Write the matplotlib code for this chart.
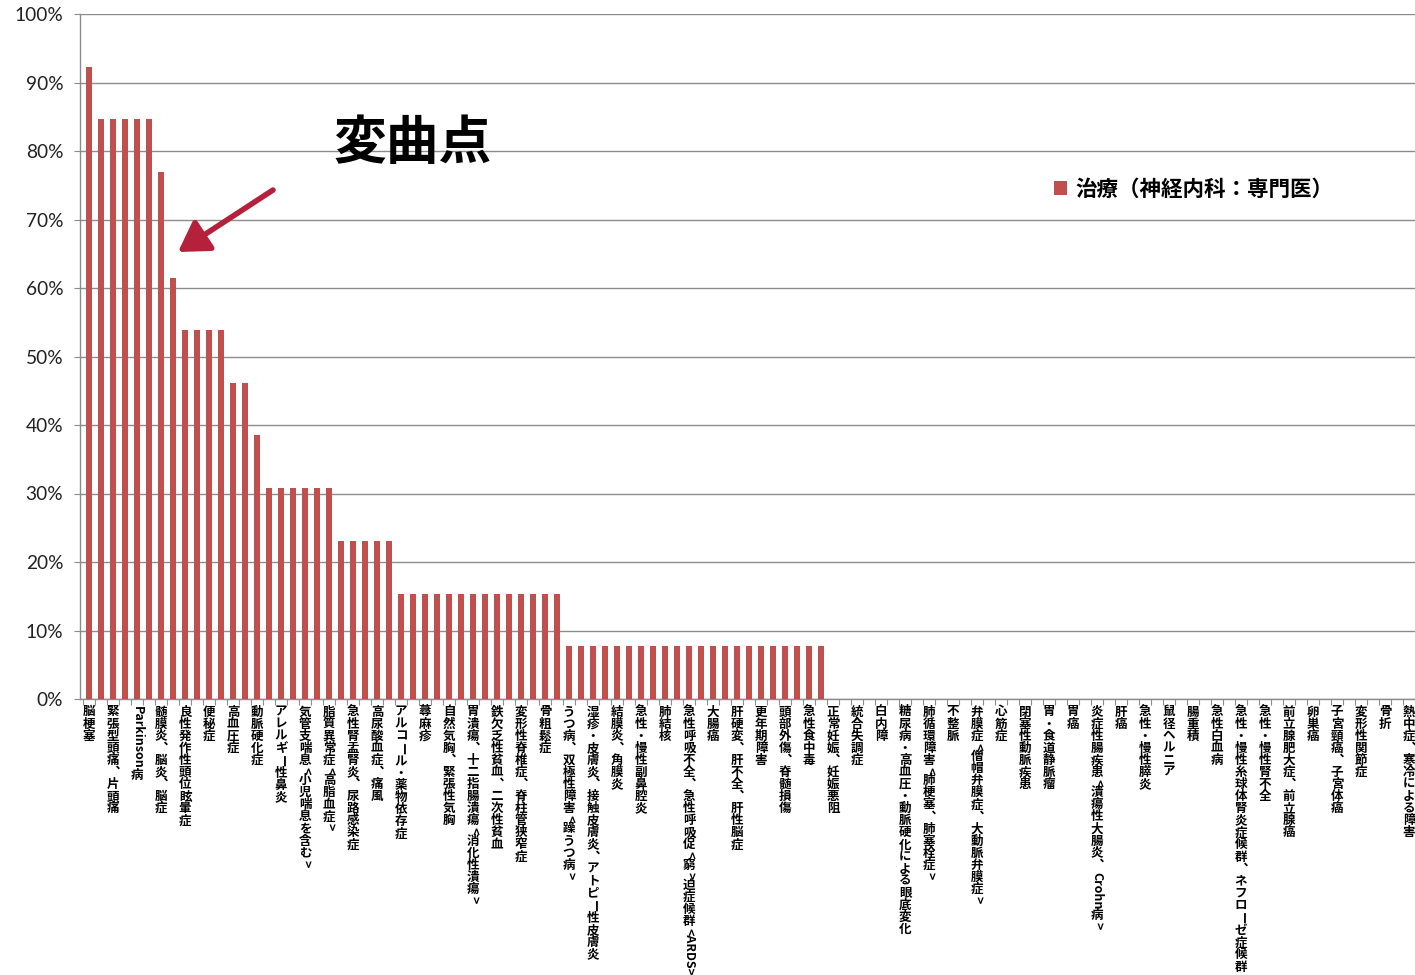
import matplotlib
matplotlib.use('Agg')
import matplotlib.pyplot as plt
import numpy as np
from matplotlib.ticker import PercentFormatter
from matplotlib.transforms import ScaledTranslation
from matplotlib.patches import FancyArrowPatch
from matplotlib.font_manager import FontProperties

plt.rcParams['font.family'] = ['Noto Sans CJK JP', 'DejaVu Sans']

# share of answers (%) per disease, sorted in descending order
values = [
    92.3, 84.6, 84.6, 84.6, 84.6, 84.6, 76.9, 61.5, 53.8, 53.8,
    53.8, 53.8, 46.2, 46.2, 38.5, 30.8, 30.8, 30.8, 30.8, 30.8,
    30.8, 23.1, 23.1, 23.1, 23.1, 23.1, 15.4, 15.4, 15.4, 15.4,
    15.4, 15.4, 15.4, 15.4, 15.4, 15.4, 15.4, 15.4, 15.4, 15.4,
    7.7, 7.7, 7.7, 7.7, 7.7, 7.7, 7.7, 7.7, 7.7, 7.7,
    7.7, 7.7, 7.7, 7.7, 7.7, 7.7, 7.7, 7.7, 7.7, 7.7,
    7.7, 7.7, 0, 0, 0, 0, 0, 0, 0, 0,
    0, 0, 0, 0, 0, 0, 0, 0, 0, 0,
    0, 0, 0, 0, 0, 0, 0, 0, 0, 0,
    0, 0, 0, 0, 0, 0, 0, 0, 0, 0,
    0, 0, 0, 0, 0, 0, 0, 0, 0, 0,
    0,
]

# only every second category name is printed on the axis
label_step = 2
labels = [
    '脳梗塞', '緊張型頭痛、片頭痛', 'Parkinson病', '髄膜炎、脳炎、脳症', '良性発作性頭位眩暈症',
    '便秘症', '高血圧症', '動脈硬化症', 'アレルギー性鼻炎', '気管支喘息<小児喘息を含む>',
    '脂質異常症<高脂血症>', '急性腎盂腎炎、尿路感染症', '高尿酸血症、痛風', 'アルコール・薬物依存症', '蕁麻疹',
    '自然気胸、緊張性気胸', '胃潰瘍、十二指腸潰瘍<消化性潰瘍>', '鉄欠乏性貧血、二次性貧血', '変形性脊椎症、脊柱管狭窄症', '骨粗鬆症',
    'うつ病、双極性障害<躁うつ病>', '湿疹・皮膚炎、接触皮膚炎、アトピー性皮膚炎', '結膜炎、角膜炎', '急性・慢性副鼻腔炎', '肺結核',
    '急性呼吸不全、急性呼吸促<窮>迫症候群<ARDS>', '大腸癌', '肝硬変、肝不全、肝性脳症', '更年期障害', '頭部外傷、脊髄損傷',
    '急性食中毒', '正常妊娠、妊娠悪阻', '統合失調症', '白内障', '糖尿病・高血圧・動脈硬化による眼底変化',
    '肺循環障害<肺梗塞、肺塞栓症>', '不整脈', '弁膜症<僧帽弁膜症、大動脈弁膜症>', '心筋症', '閉塞性動脈疾患',
    '胃・食道静脈瘤', '胃癌', '炎症性腸疾患<潰瘍性大腸炎、Crohn病>', '肝癌', '急性・慢性膵炎',
    '鼠径ヘルニア', '腸重積', '急性白血病', '急性・慢性糸球体腎炎症候群、ネフローゼ症候群', '急性・慢性腎不全',
    '前立腺肥大症、前立腺癌', '卵巣癌', '子宮頸癌、子宮体癌', '変形性関節症', '骨折',
    '熱中症、寒冷による障害',
]
series_name = '治療（神経内科：専門医）'
note = '変曲点'

bar_color = '#c0504d'
grid_color = '#8c8c8c'


def split_vertical(s):
    # latin runs and long vowel marks are turned sideways, the rest stays upright
    out, run = [], ''
    for ch in s:
        if ch.isascii() or ch == 'ー':
            run += ch
        else:
            if run:
                out.append((run, True))
                run = ''
            out.append(('︑' if ch == '、' else ch, False))
    if run:
        out.append((run, True))
    return out


fig = plt.figure(figsize=(14.15, 9.75), dpi=100)
ax = fig.add_axes([80 / 1415, 276 / 975, 1335 / 1415, 685 / 975])

x = np.arange(len(values))
ax.bar(x, values, width=0.42, color=bar_color, zorder=3, label=series_name)

ax.set_xlim(-0.75, 110.3)
ax.set_ylim(0, 100)
ax.set_yticks(np.arange(0, 101, 10))
ax.yaxis.set_major_formatter(PercentFormatter(decimals=0))
ax.set_xticks(np.arange(-0.5, len(values), 1))
ax.set_xticklabels([])
ax.yaxis.grid(True, color=grid_color, lw=1.0)
ax.set_axisbelow(True)
for side in ['top', 'right']:
    ax.spines[side].set_visible(False)
for side in ['left', 'bottom']:
    ax.spines[side].set_color(grid_color)
    ax.spines[side].set_linewidth(1.0)
ax.tick_params(axis='y', length=4, color=grid_color, pad=8, labelsize=13.8, labelcolor='#222222')
ax.tick_params(axis='x', length=4, color=grid_color)
for t in ax.get_yticklabels():
    t.set_family(['Lato', 'DejaVu Sans'])

# vertical (tategaki) category labels
renderer = fig.canvas.get_renderer()
lab_fp = FontProperties(family=['Noto Sans CJK JP', 'DejaVu Sans'], weight='bold', size=9.0)
cell = 8.7
for k, name in enumerate(labels):
    xi = k * label_step
    pos = 5.0
    for tok, sideways in split_vertical(name):
        if sideways:
            w, h, d = renderer.get_text_width_height_descent(tok, lab_fp, ismath=False)
            adv = w * 72 / fig.dpi + 0.6
        else:
            adv = cell
        tr = ax.get_xaxis_transform() + ScaledTranslation(0, -(pos + adv / 2) / 72, fig.dpi_scale_trans)
        ax.text(xi, 0, tok, transform=tr, rotation=-90 if sideways else 0,
                ha='center', va='center', fontproperties=lab_fp, clip_on=False)
        pos += adv

leg = ax.legend(loc='center left', bbox_to_anchor=(1054 / 1415, 1 - 189 / 975),
                bbox_transform=fig.transFigure, frameon=False, borderpad=0, borderaxespad=0,
                handlelength=0.6, handleheight=0.6, handletextpad=0.4,
                prop=FontProperties(family=['Noto Sans CJK JP', 'DejaVu Sans'], weight='bold', size=15.5))

fig.text(413 / 1415, 1 - 143 / 975, note, ha='center', va='center', fontsize=38, fontweight='bold')
arrow = FancyArrowPatch(posA=(273 / 1415, 1 - 190 / 975), posB=(178 / 1415, 1 - 252 / 975),
                        transform=fig.transFigure, arrowstyle='-|>,head_length=0.9,head_width=0.55',
                        mutation_scale=20, lw=4, color='#b5213b', shrinkA=0, shrinkB=0)
fig.add_artist(arrow)

fig.savefig('out.png', dpi=100)
